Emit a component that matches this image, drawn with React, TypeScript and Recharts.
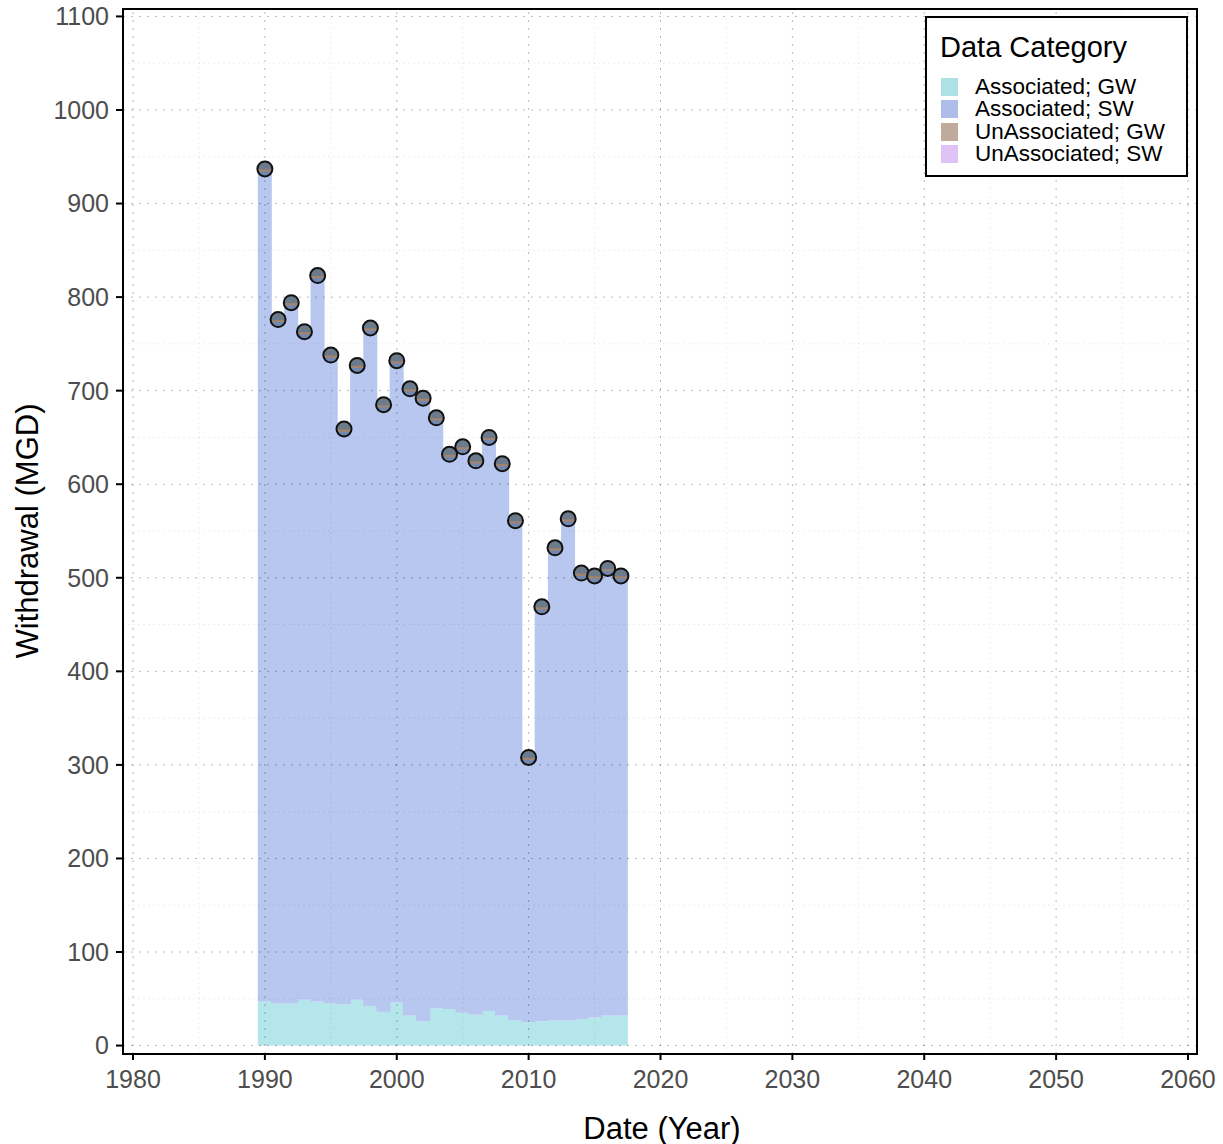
import React from "react";
import {
  ComposedChart,
  Bar,
  Scatter,
  XAxis,
  YAxis,
  ReferenceLine,
} from "recharts";

const years = [
  1990, 1991, 1992, 1993, 1994, 1995, 1996, 1997, 1998, 1999, 2000, 2001, 2002, 2003,
  2004, 2005, 2006, 2007, 2008, 2009, 2010, 2011, 2012, 2013, 2014, 2015, 2016, 2017,
];
const gwValues = [
  47, 45, 45, 49, 47, 45, 44, 49, 42, 36, 46, 32, 26, 40,
  39, 35, 33, 37, 32, 27, 25, 26, 27, 27, 28, 30, 32, 32,
];
const swValues = [
  890, 731, 749, 714, 776, 693, 615, 678, 725, 649, 686, 670, 666, 631,
  593, 605, 592, 613, 590, 534, 283, 443, 505, 536, 477, 472, 478, 470,
];

const xTicks = [1980, 1990, 2000, 2010, 2020, 2030, 2040, 2050, 2060];
const xMinor = [1985, 1995, 2005, 2015, 2025, 2035, 2045, 2055];
const yTicks = [0, 100, 200, 300, 400, 500, 600, 700, 800, 900, 1000, 1100];
const yMinor = [50, 150, 250, 350, 450, 550, 650, 750, 850, 950, 1050];

const legendItems = [
  { label: "Associated; GW", color: "#aee1e6" },
  { label: "Associated; SW", color: "#aebde9" },
  { label: "UnAssociated; GW", color: "#bfaa9b" },
  { label: "UnAssociated; SW", color: "#dfc3f6" },
];

const rows = years.map((year, i) => ({
  year,
  gw: gwValues[i],
  sw: swValues[i],
  total: gwValues[i] + swValues[i],
}));

const FONT = '"Liberation Sans", Arial, sans-serif';
const YEAR_PX = 13.2;
const MAJOR = "rgba(0,0,0,0.28)";
const MINOR = "rgba(0,0,0,0.07)";

// full-year-wide block centred on the bar's own x position
const YearBlock = (props: any) => {
  const { x, y, width, height, fill } = props;
  if (!height || height <= 0) return null;
  const cx = x + width / 2;
  const w = YEAR_PX + 0.8;
  return <rect x={cx - w / 2} y={y} width={w} height={height} fill={fill} />;
};

const Dot = (props: any) => {
  const { cx, cy } = props;
  if (cx == null || cy == null) return null;
  return (
    <g>
      <defs>
        <linearGradient id="ptfill" x1="0" y1="0" x2="0" y2="1">
          <stop offset="0" stopColor="#6b7b8c" />
          <stop offset="0.5" stopColor="#6b7b8c" />
          <stop offset="0.53" stopColor="#8d7e76" />
          <stop offset="0.58" stopColor="#a48470" />
          <stop offset="0.66" stopColor="#9e8674" />
          <stop offset="0.7" stopColor="#7088b0" />
          <stop offset="1" stopColor="#7088b0" />
        </linearGradient>
      </defs>
      <circle cx={cx} cy={cy} r={7.5} fill="url(#ptfill)" stroke="#111" strokeWidth={2} />
    </g>
  );
};

export default function App() {
  return (
    <div style={{ position: "absolute", left: 0, top: 0, width: 1223, height: 1144, background: "#fff" }}>
      <ComposedChart
        width={1223}
        height={1144}
        data={rows}
        margin={{ top: 8, right: 25, bottom: 30, left: 43 }}
      >
        <XAxis
          dataKey="year"
          type="number"
          domain={[1979.24, 2060.76]}
          ticks={xTicks}
          allowDataOverflow
          height={60}
          axisLine={{ stroke: "#000", strokeWidth: 2 }}
          tickLine={{ stroke: "#000", strokeWidth: 2 }}
          tickSize={6}
          tickMargin={10}
          tick={{ fontSize: 25, fill: "#4d4d4d", fontFamily: FONT }}
          label={{
            content: () => (
              <text x={662} y={1128} textAnchor="middle" dominantBaseline="central" fontSize={31} fontFamily={FONT} fill="#000">
                Date (Year)
              </text>
            ),
          }}
        />
        <YAxis
          type="number"
          domain={[-9, 1109]}
          ticks={yTicks}
          allowDataOverflow
          width={80}
          axisLine={{ stroke: "#000", strokeWidth: 2 }}
          tickLine={{ stroke: "#000", strokeWidth: 2 }}
          tickSize={7}
          tickMargin={7}
          tick={{ fontSize: 25, fill: "#4d4d4d", fontFamily: FONT }}
          label={{
            content: () => (
              <text
                x={27}
                y={531}
                transform="rotate(-90 27 531)"
                textAnchor="middle"
                dominantBaseline="central"
                fontSize={31}
                fontFamily={FONT}
                fill="#000"
              >
                Withdrawal (MGD)
              </text>
            ),
          }}
        />
        <Bar dataKey="gw" stackId="w" barSize={13} fill="#b5e6eb" shape={YearBlock} isAnimationActive={false} />
        <Bar dataKey="sw" stackId="w" barSize={13} fill="#b7c7ef" shape={YearBlock} isAnimationActive={false} />
        {xMinor.map((v) => (
          <ReferenceLine key={"xm" + v} x={v} stroke={MINOR} strokeDasharray="2 3" />
        ))}
        {yMinor.map((v) => (
          <ReferenceLine key={"ym" + v} y={v} stroke={MINOR} strokeDasharray="2 3" />
        ))}
        {xTicks.map((v) => (
          <ReferenceLine key={"xM" + v} x={v} stroke={MAJOR} strokeDasharray="2 6" />
        ))}
        {yTicks.map((v) => (
          <ReferenceLine key={"yM" + v} y={v} stroke={MAJOR} strokeDasharray="2 6" />
        ))}
        <Scatter dataKey="total" shape={Dot} isAnimationActive={false} />
      </ComposedChart>

      <div
        style={{
          position: "absolute",
          left: 122,
          top: 8,
          width: 1076,
          height: 1047,
          border: "2px solid #000",
          boxSizing: "border-box",
          pointerEvents: "none",
        }}
      />

      <div
        style={{
          position: "absolute",
          left: 925,
          top: 16,
          width: 263,
          height: 161,
          border: "2px solid #000",
          boxSizing: "border-box",
          background: "#fff",
          fontFamily: FONT,
          color: "#000",
        }}
      >
        <div style={{ position: "absolute", left: 13, top: 15, fontSize: 29, lineHeight: "29px", whiteSpace: "nowrap" }}>
          Data Category
        </div>
        {legendItems.map((item, i) => (
          <div
            key={item.label}
            style={{
              position: "absolute",
              left: 14,
              top: 58 + i * 22.4,
              height: 22,
              display: "flex",
              alignItems: "center",
              whiteSpace: "nowrap",
            }}
          >
            <div style={{ width: 17, height: 18, background: item.color, marginRight: 17 }} />
            <span style={{ fontSize: 22.5, lineHeight: "20px" }}>{item.label}</span>
          </div>
        ))}
      </div>
    </div>
  );
}
